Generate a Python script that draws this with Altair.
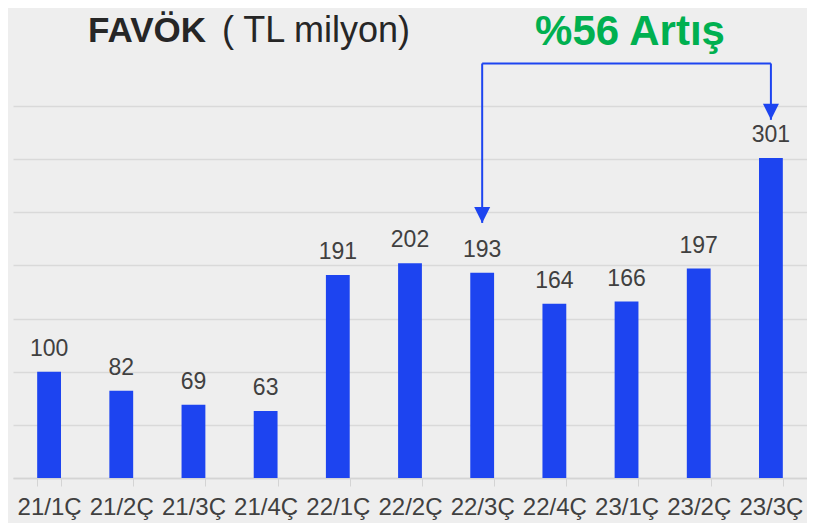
import altair as alt
import pandas as pd

quarters = ["21/1Ç", "21/2Ç", "21/3Ç", "21/4Ç", "22/1Ç", "22/2Ç",
            "22/3Ç", "22/4Ç", "23/1Ç", "23/2Ç", "23/3Ç"]
favok = [100, 82, 69, 63, 191, 202, 193, 164, 166, 197, 301]

title_bold = ["FAVÖK"]
title_rest = ["( TL milyon)"]
growth_label = ["%56 Artış"]

arrow_ends = ["22/3Ç", "23/3Ç"]
arrow_top = [390, 390]
arrow_tips = [240, 337]

grid_values = [0, 50, 100, 150, 200, 250, 300, 350]

BLUE = "#1d44f0"
GREEN = "#00b050"
FONT = "Liberation Sans"

df = pd.DataFrame({"q": quarters, "v": favok})
arrow_v = pd.DataFrame({"q": arrow_ends, "top": arrow_top, "tip": arrow_tips})
arrow_h = pd.DataFrame({"a": [arrow_ends[0]], "b": [arrow_ends[1]], "top": [arrow_top[0]]})

x_scale = alt.Scale(domain=quarters, paddingInner=0.67, paddingOuter=0.335, round=False)
y_scale = alt.Scale(domain=[0, 350], nice=False, zero=True)

x_axis = alt.Axis(title=None, labelAngle=0, labelFontSize=24, labelColor="#404040",
                  labelFont=FONT, tickBand="extent", tickSize=8, tickColor="#d4d4d4",
                  domainColor="#d4d4d4", domainWidth=1.5, labelPadding=9, grid=False)
y_axis = alt.Axis(title=None, labels=False, ticks=False, domain=False, grid=True,
                  gridColor="#d9d9d9", gridWidth=1.5, values=grid_values)

base = alt.Chart(df)
bars = base.mark_bar(color=BLUE).encode(
    x=alt.X("q:N", scale=x_scale, axis=x_axis, sort=quarters),
    y=alt.Y("v:Q", scale=y_scale, axis=y_axis),
)
labels = base.mark_text(dy=-16, baseline="alphabetic", fontSize=23, color="#404040",
                        font=FONT).encode(
    x=alt.X("q:N", scale=x_scale, sort=quarters),
    y=alt.Y("v:Q", scale=y_scale),
    text="v:Q",
)

h_rule = alt.Chart(arrow_h).mark_rule(color=BLUE, strokeWidth=2).encode(
    x=alt.X("a:N", scale=x_scale, sort=quarters),
    x2="b:N",
    y=alt.Y("top:Q", scale=y_scale),
)
v_rules = alt.Chart(arrow_v).mark_rule(color=BLUE, strokeWidth=2).encode(
    x=alt.X("q:N", scale=x_scale, sort=quarters),
    y=alt.Y("top:Q", scale=y_scale),
    y2="tip:Q",
)
heads = alt.Chart(arrow_v).mark_point(shape="M-1,-1L1,-1L0,1Z", filled=True, size=256,
                                       opacity=1, color=BLUE, yOffset=-8).encode(
    x=alt.X("q:N", scale=x_scale, sort=quarters),
    y=alt.Y("tip:Q", scale=y_scale),
)

t_bold = alt.Chart(pd.DataFrame({"t": title_bold})).mark_text(
    align="left", baseline="alphabetic", fontSize=35, fontWeight="bold",
    color="#262626", font=FONT).encode(text="t:N", x=alt.value(75), y=alt.value(-64))
t_rest = alt.Chart(pd.DataFrame({"t": title_rest})).mark_text(
    align="left", baseline="alphabetic", fontSize=36, color="#262626",
    font=FONT).encode(text="t:N", x=alt.value(209), y=alt.value(-64))
growth = alt.Chart(pd.DataFrame({"t": growth_label})).mark_text(
    align="center", baseline="alphabetic", fontSize=42, fontWeight="bold",
    color=GREEN, font=FONT).encode(
    text="t:N", x=alt.value(617), y=alt.value(-61))

chart = alt.layer(bars, labels, h_rule, v_rules, heads, t_bold, t_rest, growth).properties(
    width=794, height=372,
    autosize=alt.AutoSizeParams(type="none"),
    padding={"left": 5, "top": 98, "right": 0, "bottom": 45},
    background="#eeeeee",
).configure_view(stroke=None)

chart.save("out.html", embed_options={"renderer": "svg", "actions": False})
